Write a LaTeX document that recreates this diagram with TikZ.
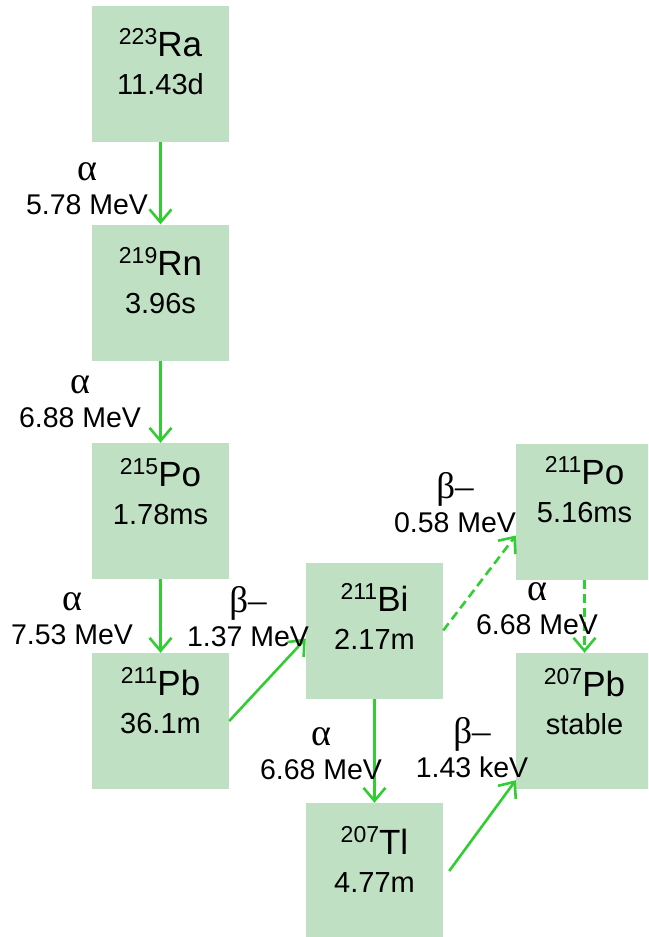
\documentclass[tikz,border=0pt]{standalone}
\usepackage{fontspec}
\setmainfont{Liberation Sans}
\newfontfamily\greekfont{Liberation Serif}
\usetikzlibrary{arrows.meta}

\definecolor{nucfill}{RGB}{192,224,196}
\definecolor{decaygreen}{RGB}{50,205,50}

\newcommand{\nucl}[2]{{\fontsize{35}{38}\selectfont\raisebox{12pt}{\fontsize{23}{23}\selectfont #1}#2}}
\newcommand{\adecay}{{\greekfont\fontsize{38}{38}\selectfont α}}
\newcommand{\bdecay}{{\greekfont\fontsize{37}{37}\selectfont β–}}

\tikzstyle{nuc}=[fill=nucfill, minimum width=137pt, minimum height=136pt, inner sep=0pt]
\tikzstyle{nuctext}=[anchor=north, align=center, inner sep=0pt, font=\fontsize{29}{38}\selectfont]
\tikzstyle{decay}=[decaygreen, line width=2.6pt, -{Straight Barb[length=13pt, width=22pt]}]
\tikzstyle{branch}=[decay, dash pattern=on 9pt off 5pt]
\tikzstyle{decaylabel}=[anchor=south, align=center, inner sep=0pt, font=\fontsize{28.5}{34}\selectfont]

\begin{document}
\begin{tikzpicture}[x=1pt, y=-1pt]
  \useasboundingbox (0,0) rectangle (648,937);
  \clip (0,0) rectangle (648,937);

  % Boxes
  \node[nuc] (ra) at (160.5,74) {};
  \node[nuc] (rn) at (160.5,292.5) {};
  \node[nuc] (po215) at (160.5,511) {};
  \node[nuc] (pb211) at (160.5,721) {};
  \node[nuc] (bi) at (374.5,630.5) {};
  \node[nuc] (tl) at (374.5,871) {};
  \node[nuc] (po211) at (584.5,511.5) {};
  \node[nuc] (pb207) at (584.5,721) {};

  % Isotope and half-life
  \node[nuctext] (ra-t) at ([yshift=-22pt]ra.north) {\nucl{223}{Ra}\\11.43d};
  \node[nuctext] (rn-t) at ([yshift=-23pt]rn.north) {\nucl{219}{Rn}\\3.96s};
  \node[nuctext] (po215-t) at ([yshift=-15pt]po215.north) {\nucl{215}{Po}\\1.78ms};
  \node[nuctext] (pb211-t) at ([yshift=-14pt]pb211.north) {\nucl{211}{Pb}\\36.1m};
  \node[nuctext] (bi-t) at ([yshift=-21pt]bi.north) {\nucl{211}{Bi}\\2.17m};
  \node[nuctext] (tl-t) at ([yshift=-23pt]tl.north) {\nucl{207}{Tl}\\4.77m};
  \node[nuctext] (po211-t) at ([yshift=-13pt]po211.north) {\nucl{211}{Po}\\5.16ms};
  \node[nuctext] (pb207-t) at ([yshift=-15pt]pb207.north) {\nucl{207}{Pb}\\stable};

  % Decays
  \draw[decay] (ra) -- (rn);
  \draw[decay] (rn) -- (po215);
  \draw[decay] (po215) -- (pb211);
  \draw[decay] (pb211.east) -- ([yshift=-8pt]bi.west);
  \draw[decay] (bi) -- (tl);
  \draw[decay] ([xshift=6pt]tl.east) -- ([yshift=9pt]pb207.south west);
  \draw[branch] (bi.east) -- ([yshift=-24pt]po211.west);
  \draw[branch] (po211) -- (pb207);

  % Decay labels
  \node[decaylabel] (ra-rn) at (87,215) {\adecay\\5.78 MeV};
  \node[decaylabel] (rn-po) at (80,428) {\adecay\\6.88 MeV};
  \node[decaylabel] (po-pb) at (72,645) {\adecay\\7.53 MeV};
  \node[decaylabel] (pb-bi) at (248,647) {\bdecay\\1.37 MeV};
  \node[decaylabel] (bi-po) at (455,533) {\bdecay\\0.58 MeV};
  \node[decaylabel] (po-pb2) at (537,635) {\adecay\\6.68 MeV};
  \node[decaylabel] (bi-tl) at (321,780) {\adecay\\6.68 MeV};
  \node[decaylabel] (tl-pb) at (472,778) {\bdecay\\1.43 keV};
\end{tikzpicture}
\end{document}
